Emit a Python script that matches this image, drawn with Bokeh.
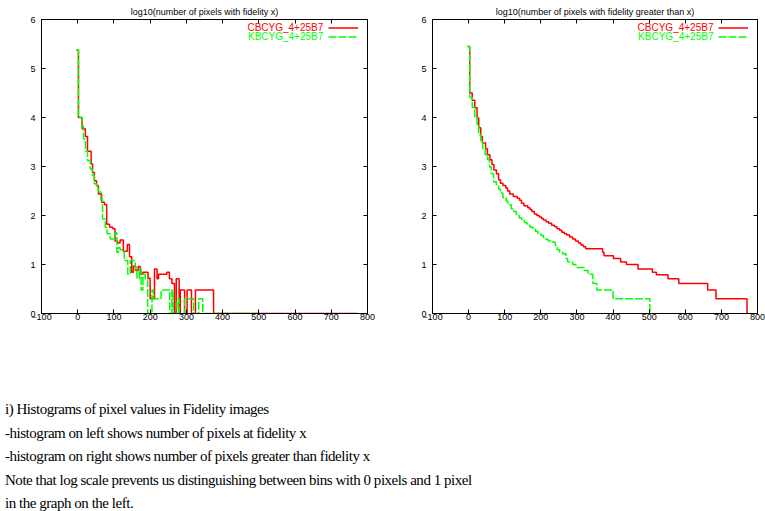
from bokeh.plotting import figure
from bokeh.models import (Range1d, LinearAxis, Label, FixedTicker, Div, Legend,
                          LegendItem, Title)
from bokeh.layouts import row, column
from bokeh.embed import file_html
from bokeh.resources import INLINE

# ---------------- data ----------------
x_ticks = [-100, 0, 100, 200, 300, 400, 500, 600, 700, 800]
y_ticks = [0, 1, 2, 3, 4, 5, 6]

series_names = ["CBCYG_4+25B7", "KBCYG_4+25B7"]
titles = ["log10(number of pixels with fidelity x)",
          "log10(number of pixels with fidelity greater than x)"]

# left: log10(number of pixels with fidelity x) - step start x / level
left_c_x = [-3, 2, 12, 21, 27, 37, 41, 46, 52, 57, 66, 74, 80, 88, 97, 103, 110,
            117, 126, 137, 143, 149, 154, 160, 167, 173, 180, 194, 200, 212, 219,
            223, 246, 253, 260, 267, 272, 280, 283, 295, 302, 314, 325, 375, 771]
left_c_y = [5.38, 4.00, 3.77, 3.61, 3.31, 3.05, 2.88, 2.71, 2.61, 2.44, 2.27, 2.22,
            1.82, 1.76, 1.73, 1.48, 1.44, 1.50, 1.27, 1.41, 1.16, 0.84, 0.97, 0.88,
            0.96, 0.80, 0.84, 0.72, 0.30, 0.91, 0.71, 0.80, 0.84, 0.71, 0.61, 0,
            0.71, 0, 0.48, 0, 0.48, 0, 0.48, 0, 0]

left_k_x = [-3, 2, 11.6, 16, 21.6, 27, 34.5, 40, 45.6, 52, 57.5, 64, 68.5, 76, 81,
            89.8, 103, 108, 112, 117, 128.5, 138, 145, 159, 163.5, 170, 175, 180,
            186.5, 193, 205, 209, 230, 254, 260, 263, 274, 280, 295, 320, 334, 345,
            502]
left_k_y = [5.38, 4.00, 3.82, 3.56, 3.31, 3.12, 2.95, 2.82, 2.65, 2.60, 2.48, 2.31,
            1.93, 1.76, 1.63, 1.52, 1.65, 1.25, 1.34, 1.30, 1.08, 0.80, 1.08, 0.91,
            0.71, 0.91, 0.48, 0.80, 0.71, 0, 0.48, 0.30, 0.48, 0, 0.48, 0, 0.30, 0,
            0.30, 0, 0.30, 0, 0]

# right: log10(number of pixels with fidelity greater than x)
right_c_x = [-3, 3, 10, 17, 23.5, 28, 33.6, 38, 47, 52, 59, 64.6, 70, 77, 83, 88,
             95, 103, 108, 114, 123.6, 134.6, 141, 146.4, 153, 164, 170, 175, 182,
             189, 195.5, 202, 207, 214.5, 222, 230, 238, 245, 252, 258, 265, 272,
             280, 288, 296, 304, 311, 318, 324, 371, 375, 401, 421, 437, 469, 509,
             520, 552, 582, 662, 685, 771]
right_c_y = [5.45, 4.50, 4.35, 4.20, 3.99, 3.79, 3.61, 3.48, 3.36, 3.24, 3.14, 3.04,
             2.93, 2.85, 2.73, 2.66, 2.61, 2.56, 2.50, 2.44, 2.39, 2.35, 2.31, 2.25,
             2.20, 2.16, 2.12, 2.08, 2.03, 2.00, 1.97, 1.94, 1.91, 1.87, 1.84, 1.80,
             1.77, 1.73, 1.70, 1.66, 1.63, 1.60, 1.56, 1.52, 1.48, 1.44, 1.40, 1.36,
             1.32, 1.25, 1.18, 1.12, 1.05, 1.00, 0.91, 0.84, 0.79, 0.71, 0.61, 0.48,
             0.30, 0]

right_k_x = [-3, 3, 10, 17, 23.4, 28, 33.6, 39, 46, 53, 58, 63, 69, 76.6, 83, 88, 95,
             104, 109, 118, 125, 132, 140, 147.5, 155, 162, 170, 178, 185, 192, 200,
             207, 214, 221, 228, 240, 245, 252, 260.5, 269.6, 274, 288, 297, 320, 331,
             344, 355, 400, 502]
right_k_y = [5.45, 4.41, 4.21, 4.01, 3.82, 3.65, 3.50, 3.36, 3.24, 3.14, 2.99, 2.85,
             2.69, 2.63, 2.54, 2.46, 2.36, 2.29, 2.22, 2.14, 2.08, 2.02, 1.95, 1.90,
             1.85, 1.80, 1.76, 1.72, 1.68, 1.63, 1.59, 1.55, 1.51, 1.48, 1.46, 1.39,
             1.30, 1.25, 1.22, 1.12, 1.05, 1.00, 0.94, 0.88, 0.80, 0.61, 0.48, 0.30, 0]

notes = [
    "i) Histograms of pixel values in Fidelity images",
    "-histogram on left shows number of pixels at fidelity x",
    "-histogram on right shows number of pixels greater than fidelity x",
    "Note that log scale prevents us distinguishing between bins with 0 pixels and 1 pixel",
    "in the graph on the left.",
]

RED = "#ff0000"
GREEN = "#00ff00"
SANS = "Liberation Sans"
DASH = "8 2"


def add_axis(p, side, labels=True):
    ticks = x_ticks if side in ("below", "above") else y_ticks
    ax = LinearAxis(ticker=FixedTicker(ticks=ticks),
                    major_tick_in=4, major_tick_out=0,
                    minor_tick_line_color=None,
                    axis_line_color="black", major_tick_line_color="black",
                    major_label_text_font=SANS,
                    major_label_text_font_size="9px" if labels else "1px",
                    major_label_text_color="black",
                    major_label_standoff=(0 if side == "below" else 6) if labels else 0)
    if not labels:
        ax.major_label_overrides = {t: "" for t in ticks}
    p.add_layout(ax, side)


def make_fig(title, cx, cy, kx, ky, b_left, f_width, b_right):
    p = figure(output_backend="svg", toolbar_location=None,
               x_range=Range1d(-100, 800), y_range=Range1d(0, 6),
               frame_width=f_width, frame_height=294,
               min_border_left=b_left, min_border_right=b_right,
               min_border_top=19, min_border_bottom=25,
               x_axis_type=None, y_axis_type=None,
               background_fill_color="white", border_fill_color="white")
    p.title = Title(text=title, align="center", text_font=SANS,
                    text_font_size="9px", text_font_style="normal",
                    text_color="black", standoff=6, offset=0)
    p.outline_line_color = "black"
    p.outline_line_width = 1
    add_axis(p, "below")
    add_axis(p, "left")
    add_axis(p, "above", labels=False)
    add_axis(p, "right", labels=False)

    rc = p.step(cx, cy, mode="after", line_color=RED, line_width=1.5)
    rk = p.step(kx, ky, mode="after", line_color=GREEN, line_width=1.5,
                line_dash=DASH)

    # gnuplot-style key: coloured text followed by a line sample
    p.add_layout(Label(x=678, y=5.84, text=series_names[0], text_align="right",
                       text_baseline="middle", text_color=RED,
                       text_font=SANS, text_font_size="10px"))
    p.add_layout(Label(x=678, y=5.65, text=series_names[1], text_align="right",
                       text_baseline="middle", text_color=GREEN,
                       text_font=SANS, text_font_size="10px"))
    leg = Legend(items=[LegendItem(label=" ", renderers=[rc]),
                        LegendItem(label=" ", renderers=[rk])],
                 location=(f_width - 39, 272),
                 glyph_width=30, glyph_height=9, label_height=9, label_width=1,
                 label_text_font_size="1px", label_standoff=0,
                 spacing=0, padding=0, margin=0,
                 background_fill_alpha=0, border_line_color=None)
    p.add_layout(leg, "center")
    return p


p1 = make_fig(titles[0], left_c_x, left_c_y, left_k_x, left_k_y, 41, 326, 31)
p2 = make_fig(titles[1], right_c_x, right_c_y, right_k_x, right_k_y, 34, 325, 8)

html = ("<div style=\"font-family:'Liberation Serif',serif;font-size:15px;"
        "line-height:23.5px;color:black;padding-top:55px;"
        "letter-spacing:-0.47px;white-space:nowrap;\">" + "<br>".join(notes) + "</div>")
div = Div(text=html, width=765, height=165)

layout = column(row(p1, p2, spacing=0), div, spacing=0)

with open("out.html", "w") as f:
    f.write(file_html(layout, INLINE))
